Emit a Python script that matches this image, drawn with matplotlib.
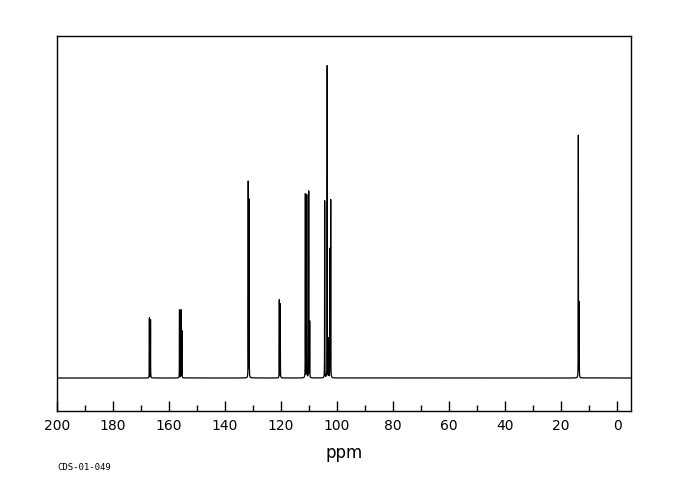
import numpy as np
import matplotlib
matplotlib.use("Agg")
import matplotlib.pyplot as plt
from matplotlib.ticker import MultipleLocator

# peak list (ppm, relative height)
shifts = [167.0, 166.6, 156.25, 155.7, 155.4, 131.7, 131.4, 120.6, 120.25,
          111.3, 110.8, 110.1, 109.75, 104.4, 103.5, 103.0, 102.5, 102.25,
          13.8, 13.5]
heights = [60, 58, 68, 68, 47, 196, 178, 78, 74,
           184, 183, 187, 56, 177, 312, 39, 128, 177,
           243, 75]
code_label = "CDS-01-049"

# build the trace as a sum of narrow lorentzians
x = np.linspace(-5, 200, 80000)
width = 0.025
y = np.zeros_like(x)
for c, h in zip(shifts, heights):
    y += h / (1 + ((x - c) / width) ** 2)

fig = plt.figure(figsize=(6.8, 5), dpi=100)
ax = fig.add_axes([57 / 680, 1 - 411 / 500, 574 / 680, 375 / 500])
ax.plot(x, y, color="black", lw=0.9)

ax.set_xlim(200, -5)
ax.set_ylim(-33, 342)
ax.xaxis.set_major_locator(MultipleLocator(20))
ax.xaxis.set_minor_locator(MultipleLocator(10))
ax.tick_params(axis="x", which="major", direction="in", length=7, width=1, labelsize=10, pad=6)
ax.tick_params(axis="x", which="minor", direction="in", length=4, width=1)
ax.set_yticks([])
for s in ax.spines.values():
    s.set_linewidth(1)

ax.set_xlabel("ppm", fontsize=12, labelpad=8)
fig.text(57 / 680, 1 - 467 / 500, code_label, fontsize=6.5, family="DejaVu Sans Mono", va="center")

fig.savefig("out.png", dpi=100)
